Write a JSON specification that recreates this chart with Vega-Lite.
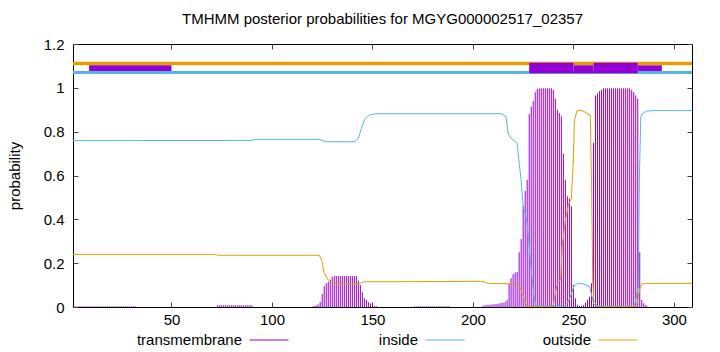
{
  "$schema": "https://vega.github.io/schema/vega-lite/v6.json",
  "autosize": {"type": "none"},
  "width": 619,
  "height": 263,
  "padding": {"left": 73, "top": 44, "right": 28, "bottom": 45},
  "background": "white",
  "title": {"text": "TMHMM posterior probabilities for MGYG000002517_02357", "font": "Liberation Sans", "fontSize": 15, "fontWeight": "normal", "color": "black", "anchor": "middle", "offset": 10},
  "config": {
    "view": {"stroke": "black", "strokeWidth": 1},
    "axis": {"labelFont": "Liberation Sans", "labelFontSize": 15, "labelColor": "black", "titleFont": "Liberation Sans", "titleFontSize": 15, "titleFontWeight": "normal", "titleColor": "black", "grid": false, "domain": false, "tickColor": "#444", "tickSize": -5},
    "legend": {"orient": "none", "legendY": 276, "direction": "horizontal", "title": null, "symbolType": "stroke", "symbolSize": 1521, "symbolStrokeWidth": 1, "labelFont": "Liberation Sans", "labelFontSize": 15, "labelColor": "black", "labelAlign": "right", "labelOffset": -47, "symbolOpacity": 1}
  },
  "datasets": {
    "tops": [
      {"series": "outside", "level": 1.111, "s": 1, "e": 309},
      {"series": "inside", "level": 1.0698, "s": 1, "e": 309}
    ],
    "boxes": [
      {"s": 9, "e": 50, "lo": 1.0766, "hi": 1.1027},
      {"s": 228, "e": 250, "lo": 1.0662, "hi": 1.1145},
      {"s": 250, "e": 260, "lo": 1.0662, "hi": 1.1027},
      {"s": 260, "e": 282, "lo": 1.0662, "hi": 1.1145},
      {"s": 282, "e": 294, "lo": 1.0766, "hi": 1.1027}
    ],
    "curves": [
      {"series": "inside", "pos": 1, "p": 0.759}, {"series": "inside", "pos": 90, "p": 0.76}, {"series": "inside", "pos": 91, "p": 0.765}, {"series": "inside", "pos": 123, "p": 0.765}, {"series": "inside", "pos": 125, "p": 0.76}, {"series": "inside", "pos": 127, "p": 0.754}, {"series": "inside", "pos": 141, "p": 0.754}, {"series": "inside", "pos": 143, "p": 0.77}, {"series": "inside", "pos": 144.5, "p": 0.815}, {"series": "inside", "pos": 146, "p": 0.853}, {"series": "inside", "pos": 148.5, "p": 0.876}, {"series": "inside", "pos": 152, "p": 0.882}, {"series": "inside", "pos": 214, "p": 0.882}, {"series": "inside", "pos": 216.5, "p": 0.868}, {"series": "inside", "pos": 217.5, "p": 0.792}, {"series": "inside", "pos": 219, "p": 0.77}, {"series": "inside", "pos": 222, "p": 0.747}, {"series": "inside", "pos": 223, "p": 0.656}, {"series": "inside", "pos": 224, "p": 0.579}, {"series": "inside", "pos": 225, "p": 0.458}, {"series": "inside", "pos": 226, "p": 0.427}, {"series": "inside", "pos": 227, "p": 0.382}, {"series": "inside", "pos": 228, "p": 0.275}, {"series": "inside", "pos": 229, "p": 0.169}, {"series": "inside", "pos": 230.4, "p": 0.047}, {"series": "inside", "pos": 231.2, "p": 0.009}, {"series": "inside", "pos": 233, "p": 0.004}, {"series": "inside", "pos": 245, "p": 0.006}, {"series": "inside", "pos": 247, "p": 0.017}, {"series": "inside", "pos": 248.5, "p": 0.047}, {"series": "inside", "pos": 250.2, "p": 0.093}, {"series": "inside", "pos": 251.8, "p": 0.108}, {"series": "inside", "pos": 255, "p": 0.105}, {"series": "inside", "pos": 258, "p": 0.093}, {"series": "inside", "pos": 259.3, "p": 0.047}, {"series": "inside", "pos": 260, "p": 0.017}, {"series": "inside", "pos": 261, "p": 0.005}, {"series": "inside", "pos": 280, "p": 0.003}, {"series": "inside", "pos": 280.7, "p": 0.017}, {"series": "inside", "pos": 282.3, "p": 0.093}, {"series": "inside", "pos": 282.8, "p": 0.579}, {"series": "inside", "pos": 283.5, "p": 0.868}, {"series": "inside", "pos": 284.5, "p": 0.884}, {"series": "inside", "pos": 286.5, "p": 0.894}, {"series": "inside", "pos": 290, "p": 0.896}, {"series": "inside", "pos": 309, "p": 0.896},
      {"series": "outside", "pos": 1, "p": 0.24}, {"series": "outside", "pos": 72, "p": 0.24}, {"series": "outside", "pos": 73, "p": 0.236}, {"series": "outside", "pos": 123.5, "p": 0.236}, {"series": "outside", "pos": 124.8, "p": 0.214}, {"series": "outside", "pos": 126, "p": 0.154}, {"series": "outside", "pos": 128, "p": 0.123}, {"series": "outside", "pos": 130.5, "p": 0.106}, {"series": "outside", "pos": 143, "p": 0.106}, {"series": "outside", "pos": 146, "p": 0.115}, {"series": "outside", "pos": 205, "p": 0.117}, {"series": "outside", "pos": 207.3, "p": 0.108}, {"series": "outside", "pos": 222, "p": 0.105}, {"series": "outside", "pos": 223, "p": 0.097}, {"series": "outside", "pos": 224.6, "p": 0.062}, {"series": "outside", "pos": 226.2, "p": 0.017}, {"series": "outside", "pos": 227, "p": 0.005}, {"series": "outside", "pos": 228, "p": 0.002}, {"series": "outside", "pos": 239.5, "p": 0.002}, {"series": "outside", "pos": 240, "p": 0.009}, {"series": "outside", "pos": 241, "p": 0.062}, {"series": "outside", "pos": 242, "p": 0.108}, {"series": "outside", "pos": 243.6, "p": 0.123}, {"series": "outside", "pos": 244.4, "p": 0.275}, {"series": "outside", "pos": 246, "p": 0.397}, {"series": "outside", "pos": 247.7, "p": 0.473}, {"series": "outside", "pos": 248.9, "p": 0.488}, {"series": "outside", "pos": 249.9, "p": 0.656}, {"series": "outside", "pos": 250.5, "p": 0.853}, {"series": "outside", "pos": 251.8, "p": 0.896}, {"series": "outside", "pos": 254.3, "p": 0.896}, {"series": "outside", "pos": 256, "p": 0.888}, {"series": "outside", "pos": 258.4, "p": 0.876}, {"series": "outside", "pos": 259, "p": 0.579}, {"series": "outside", "pos": 259.6, "p": 0.123}, {"series": "outside", "pos": 260.1, "p": 0.032}, {"series": "outside", "pos": 261.4, "p": 0.009}, {"series": "outside", "pos": 262.5, "p": 0.002}, {"series": "outside", "pos": 280.7, "p": 0.002}, {"series": "outside", "pos": 281.9, "p": 0.024}, {"series": "outside", "pos": 282.8, "p": 0.078}, {"series": "outside", "pos": 284, "p": 0.105}, {"series": "outside", "pos": 286.5, "p": 0.108}, {"series": "outside", "pos": 309, "p": 0.108}
    ],
    "tm": [
      {"pos": 1, "p": 0.003}, {"pos": 2, "p": 0.003}, {"pos": 3, "p": 0.003}, {"pos": 4, "p": 0.003}, {"pos": 5, "p": 0.003}, {"pos": 6, "p": 0.003}, {"pos": 7, "p": 0.003}, {"pos": 8, "p": 0.003}, {"pos": 9, "p": 0.003}, {"pos": 10, "p": 0.003}, {"pos": 11, "p": 0.003}, {"pos": 12, "p": 0.003}, {"pos": 13, "p": 0.003}, {"pos": 14, "p": 0.003}, {"pos": 15, "p": 0.003}, {"pos": 16, "p": 0.003}, {"pos": 17, "p": 0.003}, {"pos": 18, "p": 0.003}, {"pos": 19, "p": 0.003}, {"pos": 20, "p": 0.003}, {"pos": 21, "p": 0.003}, {"pos": 22, "p": 0.003}, {"pos": 23, "p": 0.003}, {"pos": 24, "p": 0.003}, {"pos": 25, "p": 0.003}, {"pos": 26, "p": 0.003}, {"pos": 27, "p": 0.003}, {"pos": 28, "p": 0.003}, {"pos": 29, "p": 0.003}, {"pos": 30, "p": 0.003}, {"pos": 31, "p": 0.003}, {"pos": 32, "p": 0.003},
      {"pos": 73, "p": 0.008}, {"pos": 74, "p": 0.008}, {"pos": 75, "p": 0.008}, {"pos": 76, "p": 0.008}, {"pos": 77, "p": 0.008}, {"pos": 78, "p": 0.008}, {"pos": 79, "p": 0.008}, {"pos": 80, "p": 0.008}, {"pos": 81, "p": 0.008}, {"pos": 82, "p": 0.008}, {"pos": 83, "p": 0.008}, {"pos": 84, "p": 0.008}, {"pos": 85, "p": 0.008}, {"pos": 86, "p": 0.008}, {"pos": 87, "p": 0.008}, {"pos": 88, "p": 0.008}, {"pos": 89, "p": 0.008}, {"pos": 90, "p": 0.008},
      {"pos": 120, "p": 0.002}, {"pos": 121, "p": 0.004}, {"pos": 122, "p": 0.008}, {"pos": 123, "p": 0.012}, {"pos": 124, "p": 0.024}, {"pos": 125, "p": 0.06}, {"pos": 126, "p": 0.095}, {"pos": 127, "p": 0.108}, {"pos": 128, "p": 0.115}, {"pos": 129, "p": 0.125}, {"pos": 130, "p": 0.138}, {"pos": 131, "p": 0.141}, {"pos": 132, "p": 0.141}, {"pos": 133, "p": 0.141}, {"pos": 134, "p": 0.141}, {"pos": 135, "p": 0.141}, {"pos": 136, "p": 0.141}, {"pos": 137, "p": 0.141}, {"pos": 138, "p": 0.141}, {"pos": 139, "p": 0.141}, {"pos": 140, "p": 0.141}, {"pos": 141, "p": 0.141}, {"pos": 142, "p": 0.141}, {"pos": 143, "p": 0.12}, {"pos": 144, "p": 0.1}, {"pos": 145, "p": 0.067}, {"pos": 146, "p": 0.04}, {"pos": 147, "p": 0.032}, {"pos": 148, "p": 0.022}, {"pos": 149, "p": 0.016}, {"pos": 150, "p": 0.009}, {"pos": 151, "p": 0.005}, {"pos": 152, "p": 0.003},
      {"pos": 171, "p": 0.003}, {"pos": 172, "p": 0.003}, {"pos": 173, "p": 0.003}, {"pos": 174, "p": 0.003}, {"pos": 175, "p": 0.003}, {"pos": 176, "p": 0.003}, {"pos": 177, "p": 0.003}, {"pos": 178, "p": 0.003}, {"pos": 179, "p": 0.003}, {"pos": 180, "p": 0.003}, {"pos": 181, "p": 0.003}, {"pos": 182, "p": 0.003}, {"pos": 183, "p": 0.003}, {"pos": 184, "p": 0.003}, {"pos": 185, "p": 0.003}, {"pos": 186, "p": 0.003}, {"pos": 187, "p": 0.003}, {"pos": 188, "p": 0.003},
      {"pos": 205, "p": 0.006}, {"pos": 206, "p": 0.008}, {"pos": 207, "p": 0.009}, {"pos": 208, "p": 0.01}, {"pos": 209, "p": 0.011}, {"pos": 210, "p": 0.012}, {"pos": 211, "p": 0.013}, {"pos": 212, "p": 0.014}, {"pos": 213, "p": 0.016}, {"pos": 214, "p": 0.018}, {"pos": 215, "p": 0.02}, {"pos": 216, "p": 0.023}, {"pos": 217, "p": 0.032}, {"pos": 218, "p": 0.108}, {"pos": 219, "p": 0.131}, {"pos": 220, "p": 0.149}, {"pos": 221, "p": 0.157}, {"pos": 222, "p": 0.16}, {"pos": 223, "p": 0.25}, {"pos": 224, "p": 0.31}, {"pos": 225, "p": 0.46}, {"pos": 226, "p": 0.53}, {"pos": 227, "p": 0.58}, {"pos": 228, "p": 0.88}, {"pos": 229, "p": 0.914}, {"pos": 230, "p": 0.94}, {"pos": 231, "p": 0.98}, {"pos": 232, "p": 0.995}, {"pos": 233, "p": 0.998}, {"pos": 234, "p": 0.998}, {"pos": 235, "p": 0.998}, {"pos": 236, "p": 0.998}, {"pos": 237, "p": 0.998}, {"pos": 238, "p": 0.998}, {"pos": 239, "p": 0.998}, {"pos": 240, "p": 0.99}, {"pos": 241, "p": 0.95}, {"pos": 242, "p": 0.9}, {"pos": 243, "p": 0.885}, {"pos": 244, "p": 0.87}, {"pos": 245, "p": 0.7}, {"pos": 246, "p": 0.58}, {"pos": 247, "p": 0.505}, {"pos": 248, "p": 0.495}, {"pos": 249, "p": 0.46}, {"pos": 250, "p": 0.1}, {"pos": 251, "p": 0.04}, {"pos": 252, "p": 0.01}, {"pos": 253, "p": 0.005}, {"pos": 254, "p": 0.005}, {"pos": 255, "p": 0.008}, {"pos": 256, "p": 0.02}, {"pos": 257, "p": 0.032}, {"pos": 258, "p": 0.047}, {"pos": 259, "p": 0.108}, {"pos": 260, "p": 0.75}, {"pos": 261, "p": 0.965}, {"pos": 262, "p": 0.975}, {"pos": 263, "p": 0.985}, {"pos": 264, "p": 0.99}, {"pos": 265, "p": 0.998}, {"pos": 266, "p": 0.998}, {"pos": 267, "p": 0.998}, {"pos": 268, "p": 0.998}, {"pos": 269, "p": 0.998}, {"pos": 270, "p": 0.998}, {"pos": 271, "p": 0.998}, {"pos": 272, "p": 0.998}, {"pos": 273, "p": 0.998}, {"pos": 274, "p": 0.998}, {"pos": 275, "p": 0.998}, {"pos": 276, "p": 0.998}, {"pos": 277, "p": 0.998}, {"pos": 278, "p": 0.998}, {"pos": 279, "p": 0.99}, {"pos": 280, "p": 0.98}, {"pos": 281, "p": 0.965}, {"pos": 282, "p": 0.95}, {"pos": 283, "p": 0.25}, {"pos": 284, "p": 0.032}, {"pos": 285, "p": 0.017}, {"pos": 286, "p": 0.008}, {"pos": 287, "p": 0.003}
    ]
  },
  "resolve": {"scale": {"x": "shared", "y": "shared", "color": "independent"}, "axis": {"x": "independent", "y": "independent"}, "legend": {"color": "independent"}},
  "layer": [
    {
      "data": {"name": "tm"},
      "mark": {"type": "rule", "strokeWidth": 1},
      "encoding": {
        "x": {"field": "pos", "type": "quantitative", "scale": {"domain": [1, 309], "nice": false, "zero": false}, "axis": {"orient": "top", "values": [50, 100, 150, 200, 250, 300], "labels": false, "title": null}},
        "y": {"field": "p", "type": "quantitative", "scale": {"domain": [0, 1.2], "nice": false}, "axis": {"orient": "right", "values": [0, 0.2, 0.4, 0.6, 0.8, 1, 1.2], "labels": false, "title": null}},
        "y2": {"datum": 0},
        "color": {"datum": "transmembrane", "type": "nominal", "scale": {"domain": ["transmembrane"], "range": ["#9400D3"]}, "legend": {"legendX": 176}}
      }
    },
    {
      "data": {"name": "curves"},
      "transform": [{"filter": "datum.series == 'inside'"}],
      "mark": {"type": "line", "strokeWidth": 1, "interpolate": "linear"},
      "encoding": {
        "x": {"field": "pos", "type": "quantitative", "axis": {"orient": "bottom", "values": [50, 100, 150, 200, 250, 300], "title": null, "labelPadding": 10}},
        "y": {"field": "p", "type": "quantitative", "axis": {"orient": "left", "values": [0, 0.2, 0.4, 0.6, 0.8, 1, 1.2], "format": "~g", "title": "probability", "labelPadding": 14, "titlePadding": 21}},
        "color": {"field": "series", "type": "nominal", "scale": {"domain": ["inside"], "range": ["#56B4E9"]}, "legend": {"legendX": 352}}
      }
    },
    {
      "data": {"name": "curves"},
      "transform": [{"filter": "datum.series == 'outside'"}],
      "mark": {"type": "line", "strokeWidth": 1, "interpolate": "linear"},
      "encoding": {
        "x": {"field": "pos", "type": "quantitative", "axis": null},
        "y": {"field": "p", "type": "quantitative", "axis": null},
        "color": {"field": "series", "type": "nominal", "scale": {"domain": ["outside"], "range": ["#E69F00"]}, "legend": {"legendX": 525}}
      }
    },
    {
      "data": {"name": "tops"},
      "transform": [{"filter": "datum.series == 'outside'"}],
      "mark": {"type": "rule", "strokeWidth": 3.6, "color": "#E69F00"},
      "encoding": {
        "x": {"field": "s", "type": "quantitative", "axis": null},
        "x2": {"field": "e"},
        "y": {"field": "level", "type": "quantitative", "axis": null}
      }
    },
    {
      "data": {"name": "tops"},
      "transform": [{"filter": "datum.series == 'inside'"}],
      "mark": {"type": "rule", "strokeWidth": 3, "color": "#56B4E9"},
      "encoding": {
        "x": {"field": "s", "type": "quantitative", "axis": null},
        "x2": {"field": "e"},
        "y": {"field": "level", "type": "quantitative", "axis": null}
      }
    },
    {
      "data": {"name": "boxes"},
      "mark": {"type": "rect", "color": "#9400D3"},
      "encoding": {
        "x": {"field": "s", "type": "quantitative", "axis": null},
        "x2": {"field": "e"},
        "y": {"field": "lo", "type": "quantitative", "axis": null},
        "y2": {"field": "hi"}
      }
    }
  ]
}
